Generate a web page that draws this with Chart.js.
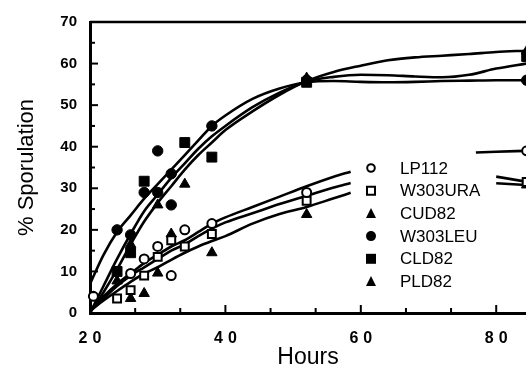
<!DOCTYPE html>
<html>
<head>
<meta charset="utf-8">
<script src="https://cdn.jsdelivr.net/npm/chart.js@4.4.1/dist/chart.umd.min.js"></script>
<style>
  html, body { margin: 0; padding: 0; background: #fff; overflow: hidden; }
  #wrap { width: 526px; height: 377px; }
</style>
</head>
<body>
<div id="wrap"><canvas id="chart" width="526" height="377"></canvas></div>
<script>
/* -----------------------
data
-------------------------- */
const xMajor = [20, 40, 60, 80];
const xMinor = [26.67, 33.33, 46.67, 53.33, 66.67, 73.33];
const yMajor = [0, 10, 20, 30, 40, 50, 60, 70];
const yMinor = [5, 15, 25, 35, 45, 55, 65];

// measured points
const lp112Hours = [20.5, 26, 28, 30, 32, 34, 38, 52, 84.5];
const lp112Pct = [4, 9.5, 13, 16, 9, 20, 21.5, 29, 39];
const uraHours = [24, 26, 28, 30, 32, 34, 38, 52, 84.5];
const uraPct = [3.5, 5.5, 9, 13.5, 17.5, 16, 19, 27, 31.5];
const cudHours = [26, 28, 30, 32, 38, 52, 84.5];
const cudPct = [3.5, 4.7, 9.6, 19, 14.5, 23.7, 30.8];
const leuHours = [24, 26, 28, 30, 30, 32, 32, 38, 52, 84.5];
const leuPct = [20, 18.8, 29, 39, 29, 26, 33.5, 45, 56, 56];
const cldHours = [24, 26, 28, 34, 38, 52, 84.5];
const cldPct = [10, 14.5, 31.7, 41, 37.5, 55.5, 61.7];
const pldHours = [24, 26, 30, 34, 52, 84.5];
const pldPct = [7.7, 16.5, 26, 31, 56.5, 63];

// hand drawn fit curves (null = hidden behind the key)
const upperFitHours = [20, 22, 24, 26, 28, 30, 32, 34, 36, 38, 40, 44, 48, 52, 56, 60, 64, 68, 72, 76, 80, 84.4];
const leuFit = [7, 14, 19.5, 23.5, 27.5, 31, 34.5, 38, 41.5, 45, 47.5, 51.5, 54, 55.5, 55.8, 55.6, 55.5, 55.6, 55.8, 55.9, 56, 56];
const cldFit = [0, 6.5, 13, 19, 24.5, 28.5, 32.5, 36, 39.5, 42.5, 45, 49.5, 53, 55.7, 56.8, 57.3, 57.2, 56.9, 56.7, 57.3, 58.8, 60];
const pldFit = [0, 5, 10.5, 16.5, 22, 26.5, 30.5, 34.5, 38, 41, 44, 48.5, 52.5, 55.8, 58, 59.5, 60.8, 61.5, 61.9, 62.3, 62.8, 63.1];

const lowerFitHours = [20, 22, 24, 26, 28, 30, 32, 34, 36, 38, 40, 44, 48, 52, 56, 58.5, 60, 77, 80, 84.4];
const lp112Fit = [0.5, 4, 7, 9.5, 12, 14, 16, 17.5, 19.5, 21.5, 23, 25.5, 28, 30.5, 32.8, 34, null, 38.6, 38.8, 39];
const uraFit = [0.5, 3.5, 6.5, 9, 11, 13, 15, 16.5, 18.5, 20.3, 21.8, 24, 26.2, 28.2, 30.2, 31.3, null, null, 32.8, 31.6];
const cudFit = [0.5, 3, 5.3, 7.5, 9.5, 11, 12.8, 14.5, 16, 17.3, 18.5, 21.5, 23.8, 25.5, 27.6, 28.9, null, null, 31.2, 30.8];

const FONT = '"Liberation Sans", Arial, Helvetica, sans-serif';

function pts(xs, ys) {
  return xs.map((x, i) => ({ x: x, y: ys[i] }));
}

function markers(label, xs, ys, style, filled, r) {
  return {
    label: label,
    data: pts(xs, ys),
    pointStyle: style,
    pointRadius: r,
    pointBorderWidth: filled ? 1 : 2,
    pointBorderColor: '#000',
    pointBackgroundColor: filled ? '#000' : '#fff',
    showLine: false,
    clip: false,
    order: 1,
    keyStyle: style,
    keyFilled: filled
  };
}

function fit(xs, ys) {
  return {
    data: pts(xs, ys),
    showLine: true,
    borderColor: '#000',
    borderWidth: 2.6,
    pointRadius: 0,
    tension: 0.4,
    cubicInterpolationMode: 'monotone',
    spanGaps: false,
    order: 2
  };
}

/* -----------------------
plugins
-------------------------- */
// inner tick marks + top frame line
const frame = {
  id: 'frame',
  afterDatasetsDraw(chart) {
    const ctx = chart.ctx;
    const a = chart.chartArea;
    const xs = chart.scales.x;
    const ys = chart.scales.y;
    ctx.save();
    ctx.strokeStyle = '#000';
    ctx.lineWidth = 2.5;
    ctx.beginPath();
    ctx.moveTo(a.left, a.top);
    ctx.lineTo(a.right, a.top);
    ctx.stroke();
    ctx.lineWidth = 2;
    const tick = (v, len, horiz) => {
      ctx.beginPath();
      if (horiz) {
        const p = xs.getPixelForValue(v);
        ctx.moveTo(p, a.bottom);
        ctx.lineTo(p, a.bottom - len);
      } else {
        const p = ys.getPixelForValue(v);
        ctx.moveTo(a.left, p);
        ctx.lineTo(a.left + len, p);
      }
      ctx.stroke();
    };
    xMajor.forEach(v => tick(v, 8, true));
    xMinor.forEach(v => tick(v, 5, true));
    yMajor.forEach(v => tick(v, 8, false));
    yMinor.forEach(v => tick(v, 5, false));
    ctx.restore();
  }
};

// key drawn inside the plot
const key = {
  id: 'key',
  afterDraw(chart) {
    const ctx = chart.ctx;
    const rows = chart.data.datasets.filter(d => d.keyStyle);
    ctx.save();
    ctx.fillStyle = '#000';
    ctx.strokeStyle = '#000';
    ctx.lineWidth = 2;
    ctx.font = '17px ' + FONT;
    ctx.textBaseline = 'middle';
    rows.forEach((d, i) => {
      const y = 168 + i * 22.7;
      const x = 371;
      const r = 4.5;
      ctx.beginPath();
      if (d.keyStyle === 'circle') {
        ctx.arc(x, y, d.keyFilled ? 5 : 3.8, 0, Math.PI * 2);
      } else if (d.keyStyle === 'rect') {
        const s = d.keyFilled ? 5 : 4;
        ctx.rect(x - s, y - s, 2 * s, 2 * s);
      } else {
        ctx.moveTo(x, y - r - 1);
        ctx.lineTo(x + r + 0.5, y + r);
        ctx.lineTo(x - r - 0.5, y + r);
        ctx.closePath();
      }
      if (d.keyFilled) ctx.fill(); else ctx.stroke();
      ctx.fillText(d.label, 400, y + 1);
    });
    ctx.restore();
  }
};

// spaced-out digits on the hours axis
const spacedX = {
  id: 'spacedX',
  beforeDraw(chart) {
    const xs = chart.scales.x;
    if (xs._spaced) return;
    const orig = xs.drawLabels;
    xs.drawLabels = function (area) {
      const c = this.ctx;
      c.save();
      c.letterSpacing = '5px';
      c.translate(2.5, 0);
      orig.call(this, area);
      c.restore();
    };
    xs._spaced = true;
  }
};

/* -----------------------
chart
-------------------------- */
const canvas = document.getElementById('chart');

new Chart(canvas, {
  type: 'scatter',
  data: {
    datasets: [
      markers('LP112', lp112Hours, lp112Pct, 'circle', false, 4.5),
      markers('W303URA', uraHours, uraPct, 'rect', false, 5.6),
      markers('CUD82', cudHours, cudPct, 'triangle', true, 6),
      markers('W303LEU', leuHours, leuPct, 'circle', true, 5.2),
      markers('CLD82', cldHours, cldPct, 'rect', true, 7),
      markers('PLD82', pldHours, pldPct, 'triangle', true, 6),
      fit(upperFitHours, leuFit),
      fit(upperFitHours, cldFit),
      fit(upperFitHours, pldFit),
      fit(lowerFitHours, lp112Fit),
      fit(lowerFitHours, uraFit),
      fit(lowerFitHours, cudFit)
    ]
  },
  options: {
    responsive: false,
    animation: false,
    devicePixelRatio: 1,
    layout: { autoPadding: false, padding: { top: 15, left: 0, right: 0, bottom: 0 } },
    plugins: {
      legend: { display: false },
      tooltip: { enabled: false }
    },
    scales: {
      x: {
        type: 'linear',
        min: 20,
        max: 84.4,
        afterBuildTicks: s => { s.ticks = xMajor.map(v => ({ value: v })); },
        afterFit: s => { s.height = 64; },
        grid: { display: false, drawTicks: false },
        border: { display: true, color: '#000', width: 3 },
        ticks: {
          color: '#000',
          font: { family: FONT, size: 16, weight: 'bold' },
          padding: 16,
          maxRotation: 0,
          autoSkip: false
        },
        title: {
          display: true,
          text: 'Hours',
          color: '#000',
          font: { family: FONT, size: 23 },
          padding: { top: 0, bottom: 6 }
        }
      },
      y: {
        type: 'linear',
        min: 0,
        max: 70,
        afterBuildTicks: s => { s.ticks = yMajor.map(v => ({ value: v })); },
        afterFit: s => { s.width = 90; },
        grid: { display: false, drawTicks: false },
        border: { display: true, color: '#000', width: 3 },
        ticks: {
          color: '#000',
          font: { family: FONT, size: 15, weight: 'bold' },
          padding: 13
        },
        title: {
          display: true,
          text: '% Sporulation',
          color: '#000',
          font: { family: FONT, size: 22 },
          padding: { top: 14, bottom: 0 }
        }
      }
    }
  },
  plugins: [frame, key, spacedX]
});
</script>
</body>
</html>
